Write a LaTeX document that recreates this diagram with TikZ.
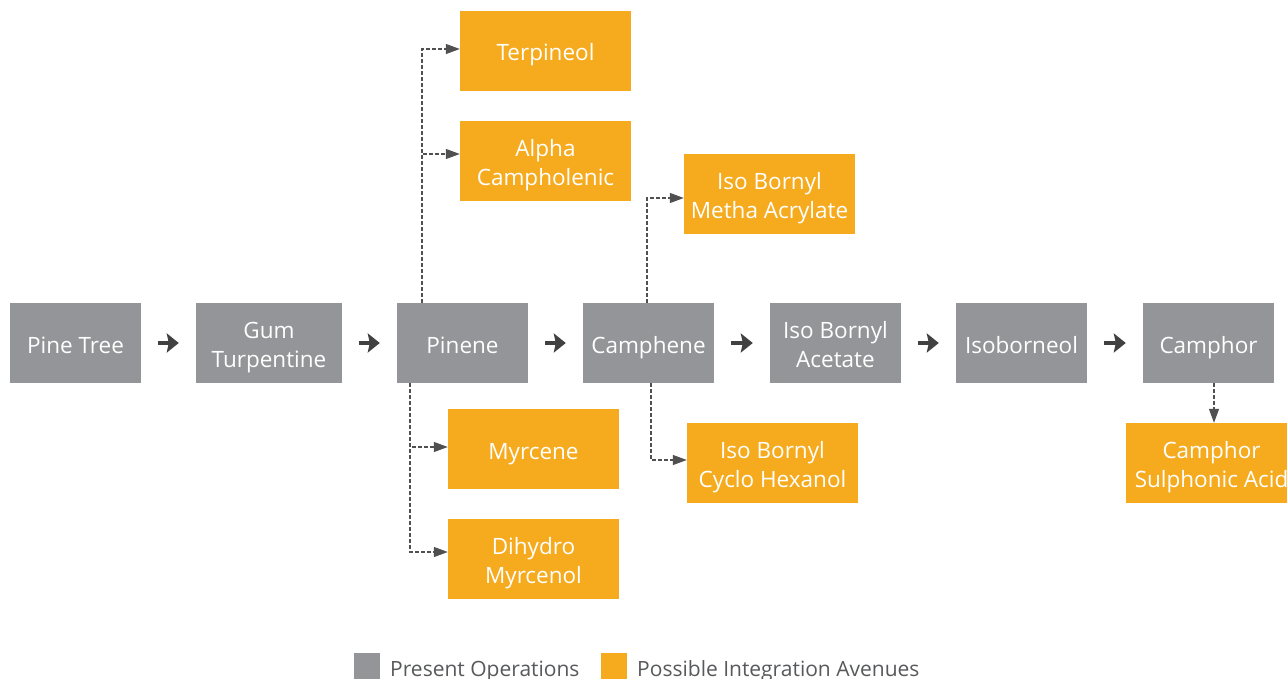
\documentclass[tikz,border=0pt]{standalone}
\usepackage{fontspec}
\setmainfont{Open Sans}
\usetikzlibrary{arrows.meta,calc}
\definecolor{opgray}{HTML}{939598}
\definecolor{avorange}{HTML}{F6AB1E}
\definecolor{arrowgray}{HTML}{414141}
\definecolor{dashgray}{HTML}{505050}
\definecolor{legtext}{HTML}{58595B}
\newcommand\topstrut{\rule{0pt}{27pt}}
\newcommand\botstrut{\rule[-7pt]{0pt}{7pt}}
\begin{document}
\begin{tikzpicture}[x=1pt,y=-1pt,
  op/.style={fill=opgray, text=white, minimum width=131, minimum height=80, align=center, inner sep=0,
    font=\fontsize{22.5}{29.5}\selectfont},
  av/.style={op, fill=avorange, minimum width=171},
  bigarrow/.style={draw=arrowgray, line width=4.5, -{Stealth[length=12,width=19,inset=2]}, shorten <=17, shorten >=17},
  dasharrow/.style={draw=dashgray, dash pattern=on 3.5pt off 2.5pt, line width=1.1, -{Triangle[length=14,width=10]}},
  legsq/.style={minimum size=26, inner sep=0},
  legtxt/.style={text=legtext, inner sep=0, anchor=base west, font=\fontsize{21}{25}\selectfont}]
\useasboundingbox (0,0) rectangle (1287,679);
\fill[white] (0,0) rectangle (1287,679);
% present operations
\node[op] (pine) at (75.5,343) {\topstrut Pine Tree\botstrut};
\node[op, minimum width=146] (gum) at (269,343) {\topstrut Gum\\Turpentine\botstrut};
\node[op] (pinene) at (462.5,343) {\topstrut Pinene\botstrut};
\node[op] (camphene) at (648.5,343) {\topstrut Camphene\botstrut};
\node[op] (iba) at (835.5,343) {\topstrut Iso Bornyl\\Acetate\botstrut};
\node[op] (isob) at (1021.5,343) {\topstrut Isoborneol\botstrut};
\node[op] (camphor) at (1208.5,343) {\topstrut Camphor\botstrut};
% avenues
\node[av] (terp) at (545.5,51) {\topstrut Terpineol\botstrut};
\node[av] (alpha) at (545.5,161) {\topstrut Alpha\\Campholenic\botstrut};
\node[av] (ibma) at (769.5,194) {\topstrut Iso Bornyl\\Metha Acrylate\botstrut};
\node[av] (myrc) at (533.5,449) {\topstrut Myrcene\botstrut};
\node[av] (dihy) at (533.5,559) {\topstrut Dihydro\\Myrcenol\botstrut};
\node[av] (ibch) at (772.5,463) {\topstrut Iso Bornyl\\Cyclo Hexanol\botstrut};
\node[av] (csa) at (1211.5,463) {\topstrut Camphor\\Sulphonic Acid\botstrut};
% main arrows
\draw[bigarrow] (pine.east) -- (gum.west);
\draw[bigarrow] (gum.east) -- (pinene.west);
\draw[bigarrow] (pinene.east) -- (camphene.west);
\draw[bigarrow] (camphene.east) -- (iba.west);
\draw[bigarrow] (iba.east) -- (isob.west);
\draw[bigarrow] (isob.east) -- (camphor.west);
% dashed arrows
\draw[dasharrow] ([xshift=-40.5]pinene.north) |- ([yshift=2]terp.west);
\draw[dasharrow] ([xshift=-40.5]pinene.north) |- ([yshift=7]alpha.west);
\draw[dasharrow] ([xshift=-52.5]pinene.south) |- ([yshift=2]myrc.west);
\draw[dasharrow] ([xshift=-52.5]pinene.south) |- ([yshift=7]dihy.west);
\draw[dasharrow] ([xshift=-1.5]camphene.north) |- ([yshift=-4]ibma.west);
\draw[dasharrow] ([xshift=2.5]camphene.south) |- ([yshift=3]ibch.west);
\draw[dasharrow] ([xshift=5.5]camphor.south) -- ([xshift=2.5]csa.north);
% legend
\node[legsq, fill=opgray] (lg1) at (366.5,666) {};
\node[legtxt] (lt1) at (390,676) {Present Operations};
\node[legsq, fill=avorange] (lg2) at (613.5,666) {};
\node[legtxt] (lt2) at (637,676) {Possible Integration Avenues};
\end{tikzpicture}
\end{document}
